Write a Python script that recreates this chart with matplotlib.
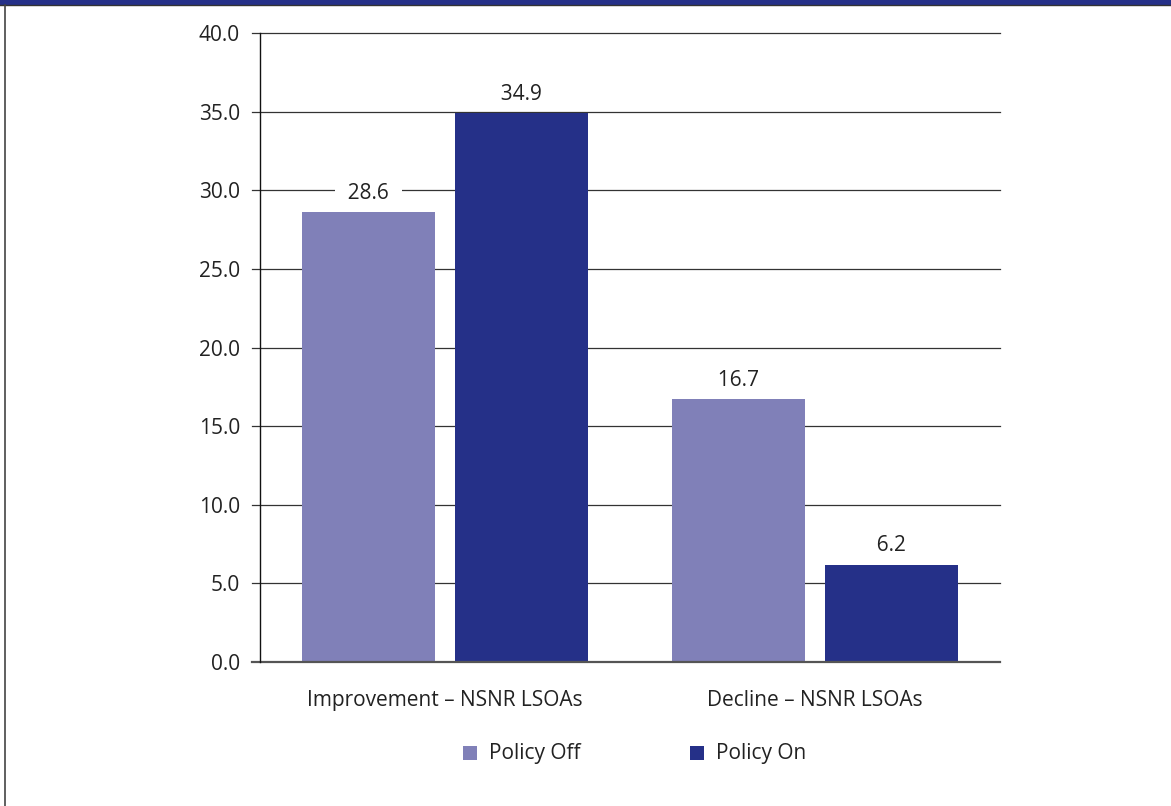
import matplotlib
matplotlib.use("Agg")
import matplotlib.pyplot as plt
from matplotlib.lines import Line2D
from matplotlib.patches import Rectangle
import numpy as np

plt.rcParams['font.family'] = ['Open Sans', 'DejaVu Sans']

categories = ["Improvement \u2013 NSNR LSOAs", "Decline \u2013 NSNR LSOAs"]
policy_off = [28.6, 16.7]
policy_on = [34.9, 6.2]
series_names = ["Policy Off", "Policy On"]
colors = ["#8080b8", "#253088"]
yticks = [0, 5, 10, 15, 20, 25, 30, 35, 40]

FS = 15
TXT = "#222222"
W, H = 1171, 806
fig = plt.figure(figsize=(W / 100, H / 100), dpi=100)

# axes in pixel coords: left 260, right 1000, top 33, bottom 662
ax = fig.add_axes([260 / W, 1 - 662 / H, 740 / W, (662 - 33) / H])

x = np.arange(len(categories))
bw = 0.361
off = 0.207
for vals, sgn, col in [(policy_off, -1, colors[0]), (policy_on, 1, colors[1])]:
    bars = ax.bar(x + sgn * off, vals, width=bw, color=col, zorder=5)
    for b, v in zip(bars, vals):
        ax.text(b.get_x() + b.get_width() / 2, v + 0.85, f"  {v:.1f}  ", ha="center", va="baseline",
                fontsize=FS, color=TXT, zorder=4,
                bbox=dict(facecolor="white", edgecolor="none", pad=1.5))

ax.set_xlim(-0.5, 1.5)
ax.set_ylim(0, 40)
ax.set_yticks(yticks)
ax.set_yticklabels([f"{t:.1f}" for t in yticks], fontsize=FS, color=TXT)
ax.set_xticks(x)
ax.set_xticklabels(categories, fontsize=FS, color=TXT)
ax.tick_params(axis="x", length=0, pad=20)
ax.tick_params(axis="y", length=0, pad=14.5)

for sp in ["top", "right", "bottom"]:
    ax.spines[sp].set_visible(False)
ax.spines["left"].set_color("#111111")
ax.spines["left"].set_linewidth(1.0)
ax.spines["left"].set_zorder(6)

# gridlines extending slightly to the left of the axis
for t in yticks:
    ax.add_line(Line2D([-0.5 - 8 / 371, 1.5], [t, t], color="#555555" if t == 0 else "#333333",
                       lw=1.6 if t == 0 else 0.9, zorder=2 if t else 6, clip_on=False))

# legend
leg_y = 1 - 753 / H
for xp, name, col in [(470, series_names[0], colors[0]), (697, series_names[1], colors[1])]:
    fig.patches.append(Rectangle(((xp - 7) / W, leg_y - 7 / H), 14 / W, 14 / H,
                                 transform=fig.transFigure, facecolor=col, edgecolor="none"))
    fig.text((xp + 19) / W, leg_y, name, ha="left", va="center", fontsize=FS, color=TXT)

# frame decorations
fig.patches.append(Rectangle((0, 1 - 4.5 / H), 1, 4.5 / H, transform=fig.transFigure,
                             facecolor="#253088", edgecolor="none"))
fig.add_artist(Line2D([0, 1], [1 - 5 / H, 1 - 5 / H], transform=fig.transFigure,
                      color="#333333", lw=1.0))
fig.add_artist(Line2D([4.5 / W, 4.5 / W], [0, 1 - 5 / H], transform=fig.transFigure,
                      color="#444444", lw=1.2))

fig.savefig("out.png", dpi=100)
